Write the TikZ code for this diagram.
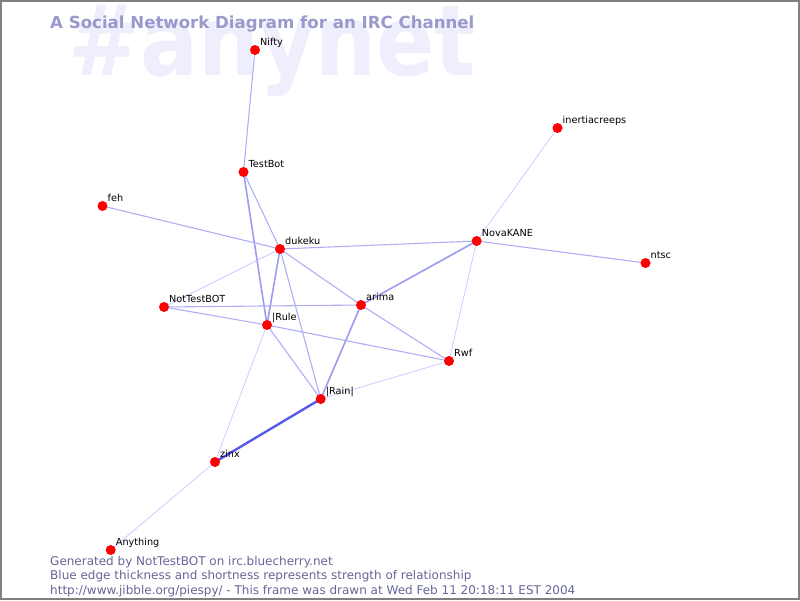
\documentclass[tikz,border=0pt]{standalone}
\usepackage{fontspec}
\setmainfont{DejaVu Sans}
\begin{document}
\begin{tikzpicture}[x=1pt,y=-1pt,
  dot/.style={circle,fill=red,inner sep=0pt,minimum size=10pt},
  lbl/.style={anchor=base west,inner sep=0pt,font=\fontsize{9.7}{11}\selectfont,text=black},
  e1/.style={draw=edgeA,line width=0.7pt},
  e2/.style={draw=edgeB,line width=1.1pt},
  e3/.style={draw=edgeC,line width=1.6pt},
  e4/.style={draw=edgeD,line width=2.4pt},
  foot/.style={anchor=base west,inner sep=0pt,text=footc,font=\fontsize{12}{13}\selectfont}]
\definecolor{edgeA}{HTML}{C8C8FF}
\definecolor{edgeB}{HTML}{AFAFF8}
\definecolor{edgeC}{HTML}{9C9CF2}
\definecolor{edgeD}{HTML}{5A5AEA}
\definecolor{footc}{HTML}{666699}
\definecolor{titlec}{HTML}{9999CC}
\definecolor{wmark}{HTML}{EEEEFC}
\useasboundingbox (0,0) rectangle (800,600);
\fill[white] (0,0) rectangle (800,600);
\node[anchor=base west,inner sep=0pt,text=wmark,font=\bfseries\fontsize{98}{100}\selectfont] (wm) at (68,75) {\scalebox{0.876}[1]{\#anynet}};
\node[anchor=base west,inner sep=0pt,text=titlec,font=\bfseries\fontsize{16.6}{18}\selectfont] (title) at (50,28) {A Social Network Diagram for an IRC Channel};
% nodes
\coordinate (Nifty) at (255,50);
\coordinate (TestBot) at (243.5,172);
\coordinate (feh) at (102.5,206);
\coordinate (dukeku) at (280,249);
\coordinate (NovaKANE) at (476.7,241);
\coordinate (inertia) at (557.5,128);
\coordinate (ntsc) at (645.5,263);
\coordinate (NotTestBOT) at (164,307);
\coordinate (arima) at (361,305);
\coordinate (Rule) at (267,325);
\coordinate (Rwf) at (449,361);
\coordinate (Rain) at (320.7,399);
\coordinate (zinx) at (215,462);
\coordinate (Anything) at (110.7,550);
% edges
\draw[e2] (Nifty) -- (TestBot);
\draw[e2] (TestBot) -- (dukeku);
\draw[e3] (TestBot) -- (Rule);
\draw[e2] (feh) -- (dukeku);
\draw[e2] (dukeku) -- (NovaKANE);
\draw[e1] (dukeku) -- (NotTestBOT);
\draw[e3] (dukeku) -- (Rule);
\draw[e2] (dukeku) -- (arima);
\draw[e2] (dukeku) -- (Rain);
\draw[e1] (NovaKANE) -- (inertia);
\draw[e2] (NovaKANE) -- (ntsc);
\draw[e3] (NovaKANE) -- (arima);
\draw[e1] (NovaKANE) -- (Rwf);
\draw[e2] (NotTestBOT) -- (arima);
\draw[e2] (NotTestBOT) -- (Rule);
\draw[e2] (arima) -- (Rwf);
\draw[e3] (arima) -- (Rain);
\draw[e2] (Rule) -- (Rwf);
\draw[e2] (Rule) -- (Rain);
\draw[e1] (Rule) -- (zinx);
\draw[e1] (Rwf) -- (Rain);
\draw[e4] (Rain) -- (zinx);
\draw[e1] (zinx) -- (Anything);
% dots and labels
\foreach \n/\t in {Nifty/Nifty,TestBot/TestBot,feh/feh,dukeku/dukeku,NovaKANE/NovaKANE,inertia/inertiacreeps,ntsc/ntsc,NotTestBOT/NotTestBOT,arima/arima,Rule/|Rule,Rwf/Rwf,Rain/|Rain|,zinx/zinx,Anything/Anything}{
  \node[dot] (d\n) at (\n) {};
  \node[lbl] (l\n) at ([xshift=5pt,yshift=5pt]\n) {\t};
}
\node[foot] (f1) at (50,565) {Generated by NotTestBOT on irc.bluecherry.net};
\node[foot] (f2) at (50,579.5) {Blue edge thickness and shortness represents strength of relationship};
\node[foot] (f3) at (50,594) {http://www.jibble.org/piespy/ - This frame was drawn at Wed Feb 11 20:18:11 EST 2004};
\draw[gray,line width=2pt] (1,1) rectangle (799,599);
\end{tikzpicture}
\end{document}
